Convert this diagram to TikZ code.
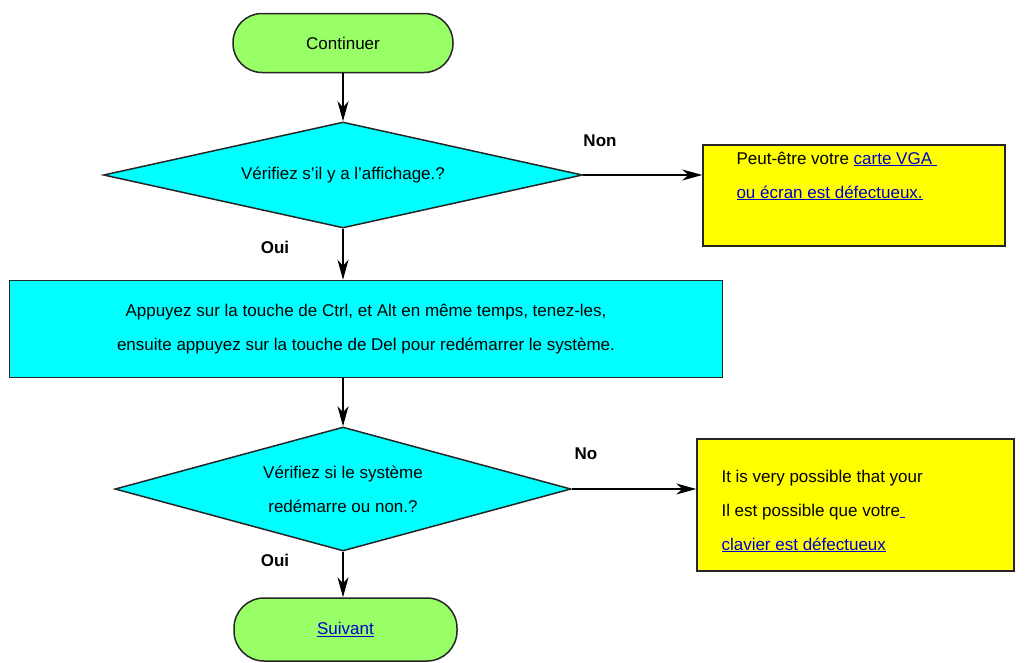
\documentclass[tikz,border=0pt]{standalone}
\usepackage{fontspec}
\setmainfont{Liberation Sans}
\usetikzlibrary{shapes.geometric,arrows.meta}
\definecolor{pill}{HTML}{99FF66}
\definecolor{cy}{HTML}{00FFFF}
\definecolor{yl}{HTML}{FFFF00}
\definecolor{lnk}{HTML}{0000CC}
\newcommand{\lk}[1]{\textcolor{lnk}{\underline{#1}}}
\begin{document}
\begin{tikzpicture}[x=1pt,y=-1pt,
  every node/.style={font=\fontsize{17}{34}\selectfont},
  shp/.style={draw=black!85,line width=1.5pt},
  arr/.style={line width=1.3pt,-{Stealth[length=20pt,width=11pt,inset=6pt]}},
  lab/.style={font=\fontsize{17}{20}\selectfont\bfseries}]
\useasboundingbox (0,0) rectangle (1026,662);
\node[shp,fill=pill,rounded corners=29pt,minimum width=220pt,minimum height=59pt] (c) at (343,43) {Continuer};
\node[shp,fill=cy,diamond,aspect=4.5,minimum width=479pt,minimum height=106pt,inner sep=0pt] (d1) at (343,175) {};
\node at (343,175) {Vérifiez s’il y a l’affichage.?};
\node[shp,fill=yl,minimum width=302pt,minimum height=101pt] (b1) at (854,195.5) {};
\node[anchor=west,align=left] at (733,176) {Peut-être votre \lk{carte VGA\ }\\\lk{ou écran est défectueux.}};
\node[shp,fill=cy,minimum width=713pt,minimum height=97pt,align=center] (r) at (366,329) {Appuyez sur la touche de Ctrl, et Alt en même temps, tenez-les,\\ensuite appuyez sur la touche de Del pour redémarrer le système.};
\node[shp,fill=cy,diamond,aspect=3.7,minimum width=456pt,minimum height=124pt,inner sep=0pt] (d2) at (343,489) {};
\node[align=center] at (343,489) {Vérifiez si le système\\redémarre ou non.?};
\node[shp,fill=yl,minimum width=317pt,minimum height=132pt] (b2) at (855.5,505) {};
\node[anchor=west,align=left,font=\fontsize{17}{34}\selectfont] at (718,511) {It is very possible that your\\Il est possible que votre\lk{\ }\\\lk{clavier est défectueux}};
\node[shp,fill=pill,rounded corners=30pt,minimum width=223pt,minimum height=63pt] (s) at (345.5,629.5) {\lk{Suivant}};
\node[lab] (n1) at (600,141) {Non};
\node[lab] (o1) at (275,247) {Oui};
\node[lab] (n2) at (586,454) {No};
\node[lab] (o2) at (275,560) {Oui};
\draw[arr] (c.south) -- (d1.north);
\draw[arr] (d1.east) -- (b1.west |- d1.east);
\draw[arr] (d1.south) -- (r.north -| d1.south);
\draw[arr] (r.south -| d1.south) -- (d2.north);
\draw[arr] (d2.east) -- (b2.west |- d2.east);
\draw[arr] (d2.south) -- (s.north -| d2.south);
\end{tikzpicture}
\end{document}
